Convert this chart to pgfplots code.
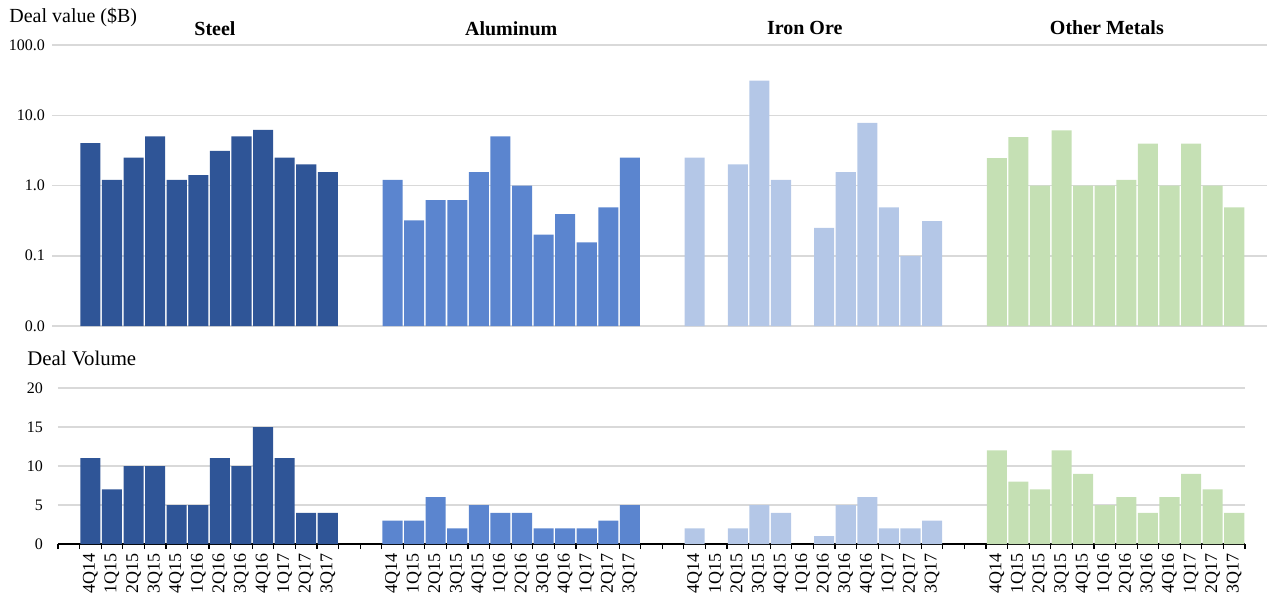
\documentclass[border=0pt]{standalone}
\usepackage{pgfplots}
\pgfplotsset{compat=1.18}
\usepackage{fontspec}
\setmainfont{Liberation Serif}
\definecolor{steel}{HTML}{2F5597}
\definecolor{alu}{HTML}{5B85CF}
\definecolor{iron}{HTML}{B4C7E7}
\definecolor{other}{HTML}{C5E0B4}
\definecolor{gridc}{HTML}{D9D9D9}
\begin{document}
\begin{tikzpicture}
\useasboundingbox (0,0) rectangle (633.5pt,297pt);
\pgfplotsset{
  every tick label/.append style={font=\fontsize{8}{9.6}\selectfont},
}
% ---------- top: deal value (log) ----------
\begin{axis}[
  name=top,
  at={(26pt,134pt)}, anchor=south west,
  scale only axis, width=607.5pt, height=140.5pt,
  xmin=-0.28, xmax=56.02,
  ymode=log, ymin=0.01, ymax=100,
  log origin y=infty,
  ytick={0.01,0.1,1,10,100},
  yticklabels={0.0,0.1,1.0,10.0,100.0},
  yminorticks=false,
  ytick pos=left,
  xtick=\empty,
  ymajorgrids,
  major grid style={draw=gridc, line width=0.75pt},
  axis line style={draw=none},
  major tick length=0pt,
  minor tick length=0pt,
  /pgf/number format/assume math mode=true,
  clip=false,
]
\addplot[ybar, bar width=0.93, bar shift=0pt, fill=steel, draw=none] coordinates {
(1.5,4.0) (2.5,1.2) (3.5,2.5) (4.5,5.0) (5.5,1.2) (6.5,1.4) (7.5,3.1) (8.5,5.0) (9.5,6.2) (10.5,2.5) (11.5,2.0) (12.5,1.55)};
\addplot[ybar, bar width=0.93, bar shift=0pt, fill=alu, draw=none] coordinates {
(15.5,1.2) (16.5,0.32) (17.5,0.62) (18.5,0.62) (19.5,1.55) (20.5,5.0) (21.5,1.0) (22.5,0.2) (23.5,0.39) (24.5,0.155) (25.5,0.49) (26.5,2.5)};
\addplot[ybar, bar width=0.93, bar shift=0pt, fill=iron, draw=none] coordinates {
(29.5,2.5) (31.5,2.0) (32.5,31) (33.5,1.2) (35.5,0.25) (36.5,1.55) (37.5,7.8) (38.5,0.49) (39.5,0.1) (40.5,0.31)};
\addplot[ybar, bar width=0.93, bar shift=0pt, fill=other, draw=none] coordinates {
(43.5,2.45) (44.5,4.9) (45.5,1.0) (46.5,6.1) (47.5,1.0) (48.5,1.0) (49.5,1.2) (50.5,3.95) (51.5,1.0) (52.5,3.95) (53.5,1.0) (54.5,0.49)};
\node[font=\bfseries\fontsize{10}{12}\selectfont] at (axis cs:7.27,100) [yshift=8pt] {Steel};
\node[font=\bfseries\fontsize{10}{12}\selectfont] at (axis cs:21,100) [yshift=8pt] {Aluminum};
\node[font=\bfseries\fontsize{10}{12}\selectfont] at (axis cs:34.6,100) [yshift=8.5pt] {Iron Ore};
\node[font=\bfseries\fontsize{10}{12}\selectfont] at (axis cs:48.6,100) [yshift=8.5pt] {Other Metals};
\end{axis}
\node[anchor=west, font=\fontsize{10}{12}\selectfont, inner sep=0pt] at (4.5pt,288.5pt) {Deal value (\$B)};
\node[anchor=west, font=\fontsize{10.4}{12}\selectfont, inner sep=0pt] at (13.5pt,118pt) {Deal Volume};
% ---------- bottom: deal volume ----------
\begin{axis}[
  at={(29pt,25pt)}, anchor=south west,
  scale only axis, width=593.5pt, height=78pt,
  xmin=0, xmax=55, ymin=0, ymax=20,
  ytick={0,5,10,15,20},
  ymajorgrids,
  major grid style={draw=gridc, line width=0.75pt},
  axis y line*=left, axis x line*=bottom,
  y axis line style={draw=none},
  x axis line style={black, line width=1pt},
  xtick={1.5,2.5,...,12.5,15.5,16.5,...,26.5,29.5,30.5,...,40.5,43.5,44.5,...,54.5},
  xticklabels={4Q14,1Q15,2Q15,3Q15,4Q15,1Q16,2Q16,3Q16,4Q16,1Q17,2Q17,3Q17,
               4Q14,1Q15,2Q15,3Q15,4Q15,1Q16,2Q16,3Q16,4Q16,1Q17,2Q17,3Q17,
               4Q14,1Q15,2Q15,3Q15,4Q15,1Q16,2Q16,3Q16,4Q16,1Q17,2Q17,3Q17,
               4Q14,1Q15,2Q15,3Q15,4Q15,1Q16,2Q16,3Q16,4Q16,1Q17,2Q17,3Q17},
  minor xtick={0,1,...,55},
  major tick length=0pt,
  minor tick length=2.5pt,
  tick align=outside,
  minor tick style={black, line width=0.6pt},
  xticklabel style={yshift=-4.5pt, rotate=90, anchor=east, inner sep=0pt, font=\fontsize{9}{10.8}\selectfont},
  yticklabel style={xshift=-4pt},
  /pgf/number format/assume math mode=true,
]
\addplot[ybar, bar width=0.93, bar shift=0pt, fill=steel, draw=none] coordinates {
(1.5,11) (2.5,7) (3.5,10) (4.5,10) (5.5,5) (6.5,5) (7.5,11) (8.5,10) (9.5,15) (10.5,11) (11.5,4) (12.5,4)};
\addplot[ybar, bar width=0.93, bar shift=0pt, fill=alu, draw=none] coordinates {
(15.5,3) (16.5,3) (17.5,6) (18.5,2) (19.5,5) (20.5,4) (21.5,4) (22.5,2) (23.5,2) (24.5,2) (25.5,3) (26.5,5)};
\addplot[ybar, bar width=0.93, bar shift=0pt, fill=iron, draw=none] coordinates {
(29.5,2) (31.5,2) (32.5,5) (33.5,4) (35.5,1) (36.5,5) (37.5,6) (38.5,2) (39.5,2) (40.5,3)};
\addplot[ybar, bar width=0.93, bar shift=0pt, fill=other, draw=none] coordinates {
(43.5,12) (44.5,8) (45.5,7) (46.5,12) (47.5,9) (48.5,5) (49.5,6) (50.5,4) (51.5,6) (52.5,9) (53.5,7) (54.5,4)};
\end{axis}
\end{tikzpicture}
\end{document}
